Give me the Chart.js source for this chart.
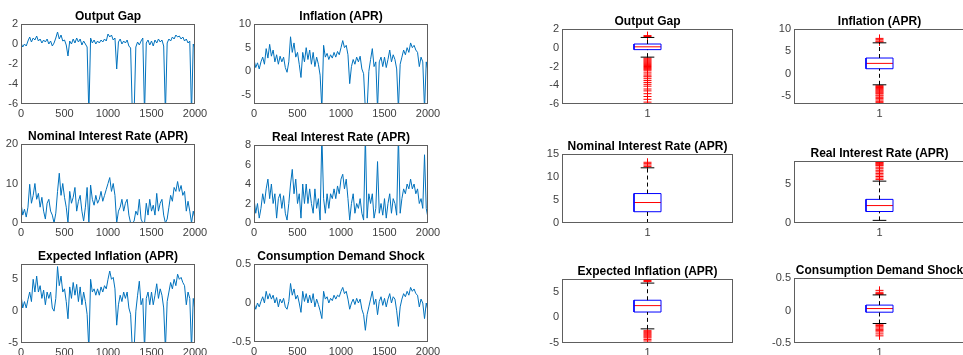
<!DOCTYPE html>
<html>
<head>
<meta charset="utf-8">
<script src="https://cdn.jsdelivr.net/npm/chart.js@4/dist/chart.umd.min.js"></script>
<style>
html, body { margin: 0; padding: 0; background: #fff; overflow: hidden; }
#wrap { position: relative; width: 963px; height: 355px; overflow: hidden; }
#wrap canvas { position: absolute; }
</style>
</head>
<body>
<div id="wrap"></div>
<script>
// sample index (every 20th period of the 2000-period simulation)
const periods = Array.from({ length: 101 }, (_, i) => i * 20);

const outputGap = [
	0.1, -0.3, 0.0, -0.2, 0.3, 0.7, 0.2, 0.6, 0.4, 0.8,
	0.3, 0.5, 0.1, 0.4, 0.2, 0.5, 0.0, 0.3, -0.2, 0.1,
	0.6, 1.2, 0.5, 0.9, 0.3, 0.4, -0.1, -1.2, 0.3, 0.0,
	0.5, 0.1, 0.6, 0.2, 0.5, -0.1, 0.3, 0.0, -0.3, -7,
	0.6, 0.1, 0.4, 0.0, 0.3, 0.1, 0.4, 0.2, 0.5, 0.3,
	1.0, 0.7, 0.9, 0.4, 0.6, -2.5, 0.2, 0.5, 0.0, 0.3,
	0.1, 0.4, -0.2, -0.4, -7, -7, -0.3, 0.2, -0.1, 0.3,
	0.6, -7, 0.1, 0.4, -0.1, 0.3, -0.2, 0.4, 0.1, 0.5,
	0.2, 0.4, -0.2, -7, 0.1, 0.5, 0.3, 0.7, 0.5, 0.9,
	0.7, 0.8, 0.5, 0.7, 0.3, 0.5, 0.1, 0.3, -7, 0.0,
	-0.5
];
const inflation = [
	2.5, 0.8, 1.8, 0.5, 2.0, 3.0, 1.5, 4.8, 2.8, 5.7,
	3.2, 4.5, 2.0, 3.5, 1.5, 3.2, 2.0, 3.0, 0.8, -0.2,
	2.0, 7.3, 4.0, 6.0, 3.0, 4.0, 1.5, -1.3, 4.0, 2.0,
	5.0, 2.5, 4.5, 1.5, 4.0, 1.0, 3.0, 1.5, -0.8, -8,
	5.5, 3.0, 3.8, 2.5, 3.5, 2.8, 4.0, 3.0, 4.2, 3.5,
	5.0, 6.5, 5.0, 5.5, 3.5, -2.6, 1.0, 2.5, 1.5, 3.0,
	2.0, 3.2, 0.5, -0.5, -8, -8, 0.0, 2.5, 4.8, 1.0,
	2.0, -8, 2.0, 3.0, 1.0, 3.0, 0.8, 2.5, 4.5, 2.0,
	3.5, 2.5, 0.5, -8, 1.5, 3.0, 4.5, 3.5, 5.0, 4.0,
	6.0, 5.0, 5.5, 4.5, 4.0, 1.0, 3.0, 2.0, -8, 2.0,
	0.0
];
const nominalRate = [
	5.0, 2.0, 3.5, 1.5, 4.0, 9.8, 5.0, 7.0, 10.0, 6.0,
	7.5, 4.0, 6.5, 3.0, 1.0, 5.0, 6.0, 3.0, 2.0, 0.0,
	2.5, 8.0, 12.6, 7.0, 10.0, 6.5, 4.0, 0.0, 8.0, 5.0,
	6.5, 9.0, 3.0, 5.5, 7.0, 3.0, 0.5, 4.0, 9.0, 0.0,
	9.6, 6.0, 4.5, 7.0, 5.0, 6.0, 8.0, 5.5, 7.0, 8.5,
	10.0, 11.5, 8.0, 10.0, 7.0, 0.0, 3.0, 4.0, 6.0, 3.0,
	5.0, 6.0, 2.0, 0.0, 0.0, 0.5, 3.0, 2.0, 6.0, 1.0,
	0.0, 0.0, 5.0, 2.0, 6.0, 3.0, 4.5, 2.0, 7.5, 3.0,
	5.0, 6.0, 2.0, 0.0, 1.0, 4.0, 7.0, 5.5, 9.0, 8.0,
	10.5, 8.0, 9.5, 7.0, 8.0, 3.0, 5.5, 3.0, 0.0, 3.0,
	1.0
];
const realRate = [
	2.5, 1.0, 2.0, 0.5, 1.5, 3.0, 2.0, 3.5, 4.5, 2.5,
	4.0, 2.0, 3.0, 0.5, 2.5, 3.0, 1.5, 2.8, 1.0, 0.3,
	2.0, 4.0, 5.5, 3.0, 4.5, 2.0, 3.0, 0.5, 4.0, 2.0,
	4.0, 2.0, 3.5, 2.0, 1.0, 3.5, 1.5, 2.5, 0.3, 9.0,
	2.5, 1.0, 3.0, 1.5, 3.0, 2.5, 3.5, 2.5, 3.8, 3.0,
	4.5, 5.0, 3.5, 4.5, 2.5, 0.3, 2.0, 3.0, 1.0, 2.0,
	1.5, 2.5, 1.0, 0.3, 9.0, 0.5, 3.0, 2.0, 3.0, 0.5,
	1.5, 6.3, 1.0, 2.0, 0.8, 2.5, 0.5, 2.0, 3.0, 1.0,
	2.5, 2.0, 0.8, 9.0, 1.0, 2.5, 3.5, 3.0, 4.0, 3.5,
	4.5, 3.5, 4.0, 3.0, 3.5, 2.0, 2.5, 1.5, 7.0, 1.5,
	0.5
];
const expInflation = [
	2.5, 0.5, 1.5, 0.5, 1.8, 3.0, 1.5, 5.0, 3.0, 5.5,
	3.0, 4.0, 2.0, 3.3, 1.0, 3.0, 2.0, 3.0, 0.5, 0.0,
	2.0, 7.0, 4.0, 5.5, 3.0, 3.5, 1.5, -1.2, 3.8, 2.0,
	4.5, 2.5, 4.2, 1.5, 3.8, 1.0, 3.0, 1.5, -0.5, -6,
	5.0, 3.0, 3.5, 2.5, 3.5, 2.5, 3.8, 3.0, 4.0, 3.5,
	5.0, 6.3, 5.0, 5.3, 3.5, -2.2, 1.0, 2.5, 1.5, 3.0,
	2.0, 3.0, 0.5, -0.5, -6, -6, 0.0, 2.5, 4.7, 1.0,
	2.0, -6, 2.0, 3.0, 1.0, 3.0, 1.0, 2.5, 4.3, 2.0,
	3.5, 2.5, 0.5, -6, 1.5, 3.0, 4.5, 3.5, 5.0, 4.0,
	5.8, 5.0, 5.3, 4.5, 4.0, 1.0, 3.0, 2.0, -6, 2.0,
	0.0
];
const demandShock = [
	0.0, -0.08, 0.0, -0.05, 0.02, 0.08, 0.0, 0.15, 0.05, 0.12,
	0.05, 0.1, 0.0, 0.07, -0.05, 0.05, 0.0, 0.06, -0.05, -0.08,
	0.02, 0.25, 0.1, 0.18, 0.05, 0.1, 0.0, -0.12, 0.15, 0.02,
	0.12, 0.0, 0.1, 0.0, 0.12, -0.05, 0.05, -0.02, -0.1, -0.2,
	0.15, 0.05, 0.08, 0.0, 0.06, 0.03, 0.1, 0.05, 0.1, 0.08,
	0.15, 0.2, 0.12, 0.15, 0.05, -0.08, 0.0, 0.05, -0.02, 0.06,
	0.0, 0.05, -0.08, -0.15, -0.35, -0.15, -0.05, 0.05, 0.15, -0.02,
	0.05, -0.15, 0.02, 0.08, -0.03, 0.06, -0.05, 0.05, 0.12, 0.0,
	0.08, 0.05, -0.1, -0.3, -0.05, 0.05, 0.12, 0.08, 0.15, 0.1,
	0.2, 0.15, 0.18, 0.12, 0.1, -0.05, 0.05, 0.0, -0.2, 0.0,
	-0.1
];

const titles = ['Output Gap', 'Inflation (APR)', 'Nominal Interest Rate (APR)',
	'Real Interest Rate (APR)', 'Expected Inflation (APR)', 'Consumption Demand Shock'];
const seriesList = [outputGap, inflation, nominalRate, realRate, expInflation, demandShock];

// axis limits and ticks of the time-series panels
const tsYMin = [-6, -6.9, 0, 0, -5, -0.5];
const tsYMax = [2, 10, 20, 8, 7.4, 0.5];
const tsYTicks = [[-6, -4, -2, 0, 2], [-5, 0, 5, 10], [0, 10, 20], [0, 2, 4, 6, 8], [-5, 0, 5], [-0.5, 0, 0.5]];
const tsXTicks = [0, 500, 1000, 1500, 2000];

// boxplot summaries
const boxQ1 = [-0.2, 1.1, 2.45, 1.48, 1.05, -0.026];
const boxMed = [0.1, 2.3, 4.45, 2.25, 2.3, 0.03];
const boxQ3 = [0.4, 3.5, 6.4, 3.05, 3.35, 0.083];
const whiskLo = [-1.0, -2.5, 0.0, 0.34, -2.24, -0.2];
const whiskHi = [1.1, 6.9, 12.0, 5.4, 6.7, 0.24];
const outGap = [1.2, 1.3, -1.1, -1.2, -1.3, -1.4, -1.5, -1.6, -1.7, -1.8, -1.9, -2.0, -2.1, -2.2, -2.3, -2.4,
	-2.6, -2.8, -3.0, -3.1, -3.3, -3.5, -3.7, -3.9, -4.1, -4.4, -4.6, -4.9, -5.2, -5.5, -5.8];
const outInfl = [7.1, 7.3, 7.6, 7.9, -2.7, -2.9, -3.1, -3.3, -3.5, -3.7, -3.9, -4.1, -4.3, -4.5, -4.8,
	-5.0, -5.3, -5.6, -5.9, -6.2, -6.5];
const outNom = [12.3, 12.6, 12.9, 13.2];
const outReal = [5.6, 5.8, 6.0, 6.2, 6.4, 6.6, 6.8, 7.0, 7.2, 7.4, 7.5, 7.6, 7.7, 7.8, 7.9];
const outExp = [7.0, 7.2, 7.4, -2.6, -2.8, -3.0, -3.2, -3.4, -3.6, -3.8, -4.0, -4.3, -4.6, -4.9];
const outShock = [0.25, 0.26, 0.28, 0.31, -0.21, -0.23, -0.25, -0.27, -0.29, -0.31, -0.33, -0.36, -0.39];
const boxOutliers = [outGap, outInfl, outNom, outReal, outExp, outShock];
const boxYMin = [-6, -6.8, 0, 0, -5, -0.5];
const boxYMax = [2, 10, 15, 8, 7.5, 0.5];
const boxYTicks = [[-6, -4, -2, 0, 2], [-5, 0, 5, 10], [0, 5, 10, 15], [0, 5], [-5, 0, 5], [-0.5, 0, 0.5]];

// plot-area rectangles on the page
const tsAreas = [
	{ x: 21, y: 24, w: 174, h: 80 }, { x: 254, y: 24, w: 174, h: 80 },
	{ x: 21, y: 144, w: 174, h: 79 }, { x: 254, y: 145, w: 174, h: 78 },
	{ x: 21, y: 264, w: 174, h: 79 }, { x: 254, y: 264, w: 174, h: 78 },
];
const boxAreas = [
	{ x: 562, y: 29, w: 171, h: 75 }, { x: 794, y: 29, w: 171, h: 75 },
	{ x: 562, y: 154, w: 171, h: 69 }, { x: 794, y: 161, w: 171, h: 62 },
	{ x: 562, y: 279, w: 171, h: 64 }, { x: 794, y: 278, w: 171, h: 65 },
];

const M = { l: 32, t: 22, r: 16, b: 18 };
const BOX = 0.079;
const CAP = 0.04;
const tickFont = { family: 'Liberation Sans, Arial, sans-serif', size: 11 };
const wrap = document.getElementById('wrap');

const frame = {
	id: 'frame',
	afterDatasetsDraw(chart) {
		const { ctx, chartArea: a } = chart;
		ctx.save();
		ctx.strokeStyle = '#5e5e5e';
		ctx.lineWidth = 1;
		ctx.strokeRect(Math.round(a.left) + 0.5, Math.round(a.top) + 0.5, Math.round(a.width) - 1, Math.round(a.height) - 1);
		ctx.restore();
	},
};

function makePanel(area, title, datasets, yMin, yMax, yTicks, xMin, xMax, xTicks) {
	const c = document.createElement('canvas');
	c.width = area.w + M.l + M.r;
	c.height = area.h + M.t + M.b;
	c.style.left = (area.x - M.l) + 'px';
	c.style.top = (area.y - M.t) + 'px';
	wrap.appendChild(c);

	new Chart(c, {
		type: 'scatter',
		data: { datasets },
		plugins: [frame],
		options: {
			responsive: false,
			devicePixelRatio: 1,
			animation: false,
			layout: { padding: { left: 0, right: M.r, top: 0, bottom: 0 } },
			plugins: {
				legend: { display: false },
				tooltip: { enabled: false },
				title: {
					display: true,
					text: title,
					fullSize: false,
					color: '#000',
					font: { family: 'Liberation Sans, Arial, sans-serif', size: 12, weight: 'bold', lineHeight: 1.2 },
					padding: { top: 7, bottom: 0.6 },
				},
			},
			scales: {
				x: {
					type: 'linear',
					min: xMin,
					max: xMax,
					grid: { display: false, drawTicks: false, tickLength: 0 },
					border: { display: false },
					ticks: { font: tickFont, color: '#404040', padding: 3, maxRotation: 0, autoSkip: false, callback: (v) => String(v) },
					afterBuildTicks: (s) => { s.ticks = xTicks.map((v) => ({ value: v })); },
					afterFit: (s) => { s.height = M.b; },
				},
				y: {
					type: 'linear',
					min: yMin,
					max: yMax,
					grid: { display: false, drawTicks: false, tickLength: 0 },
					border: { display: false },
					ticks: { font: tickFont, color: '#404040', padding: 3, autoSkip: false, callback: (v) => String(v) },
					afterBuildTicks: (s) => { s.ticks = yTicks.map((v) => ({ value: v })); },
					afterFit: (s) => { s.width = M.l; },
				},
			},
		},
	});
}

function seg(points, color, dash) {
	return { data: points, showLine: true, pointRadius: 0, borderColor: color, borderWidth: 1, borderDash: dash || [] };
}

// time series
seriesList.forEach((vals, i) => {
	const pts = periods.map((p, k) => ({ x: p, y: vals[k] }));
	const ds = [{ data: pts, showLine: true, pointRadius: 0, borderColor: '#0072BD', borderWidth: 1 }];
	makePanel(tsAreas[i], titles[i], ds, tsYMin[i], tsYMax[i], tsYTicks[i], 0, 2000, tsXTicks);
});

// boxplots
titles.forEach((t, i) => {
	const q1 = boxQ1[i], md = boxMed[i], q3 = boxQ3[i], lo = whiskLo[i], hi = whiskHi[i];
	const ds = [
		seg([{ x: 1, y: q3 }, { x: 1, y: hi }], '#000', [4, 3]),
		seg([{ x: 1, y: lo }, { x: 1, y: q1 }], '#000', [4, 3]),
		seg([{ x: 1 - CAP, y: hi }, { x: 1 + CAP, y: hi }], '#000'),
		seg([{ x: 1 - CAP, y: lo }, { x: 1 + CAP, y: lo }], '#000'),
		seg([{ x: 1 - BOX, y: q1 }, { x: 1 + BOX, y: q1 }, { x: 1 + BOX, y: q3 }, { x: 1 - BOX, y: q3 }, { x: 1 - BOX, y: q1 }], '#0000ff'),
		seg([{ x: 1 - BOX, y: md }, { x: 1 + BOX, y: md }], '#ff0000'),
		{
			data: boxOutliers[i].map((v) => ({ x: 1, y: v })),
			showLine: false,
			pointStyle: 'cross',
			pointRadius: 4,
			pointBorderColor: '#ff0000',
			pointBackgroundColor: '#ff0000',
			pointBorderWidth: 1,
		},
	];
	makePanel(boxAreas[i], t, ds, boxYMin[i], boxYMax[i], boxYTicks[i], 0.5, 1.5, [1]);
});
</script>
</body>
</html>
